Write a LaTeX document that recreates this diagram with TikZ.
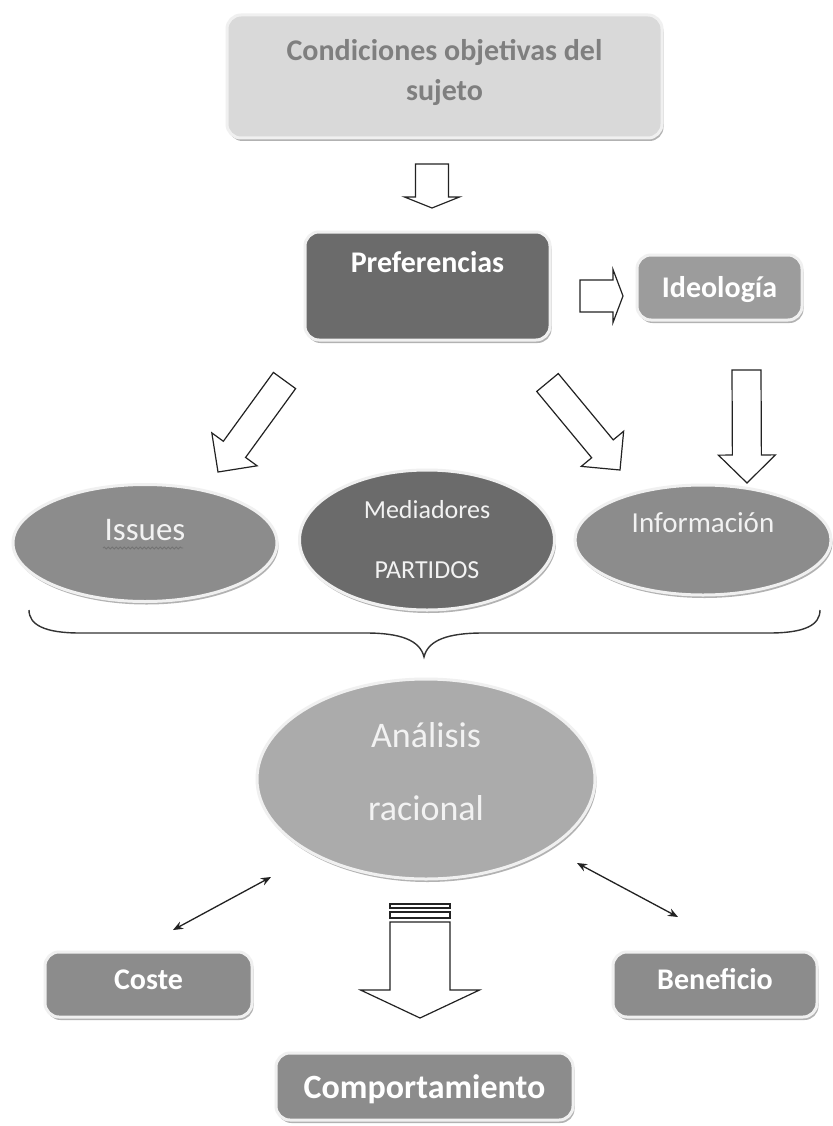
\documentclass[tikz,border=0pt]{standalone}
\usepackage{fontspec}
\setmainfont{Carlito}
\usetikzlibrary{shapes.geometric,shadows,calc,arrows.meta,decorations.pathmorphing}

\definecolor{condfill}{HTML}{D9D9D9}
\definecolor{condtext}{HTML}{7F7F7F}
\definecolor{darkfill}{HTML}{6B6B6B}
\definecolor{midfill}{HTML}{8C8C8C}
\definecolor{ideofill}{HTML}{9C9C9C}
\definecolor{anafill}{HTML}{ABABAB}
\definecolor{rimcol}{HTML}{F0F0F0}
\definecolor{inkcol}{HTML}{222222}
\definecolor{lighttext}{HTML}{F2F2F2}

% hollow block arrow: tail, tip, half shaft width, half head width, head length
\newcommand\blockarrow[5]{%
  \coordinate (#1#2hb) at ($(#2)!#5!(#1)$);
  \draw[hollowarrow]
    ($(#1)!#3!90:(#2)$) -- ($(#1#2hb)!#3!90:(#2)$) -- ($(#1#2hb)!#4!90:(#2)$)
    -- (#2)
    -- ($(#1#2hb)!#4!-90:(#2)$) -- ($(#1#2hb)!#3!-90:(#2)$) -- ($(#1)!#3!-90:(#2)$)
    -- cycle;}

\begin{document}
\begin{tikzpicture}[x=1pt,y=-1pt,
  softshadow/.style={drop shadow={shadow xshift=1.5pt,shadow yshift=-3pt,fill=black,opacity=0.3}},
  rbox/.style={rectangle,rounded corners=14pt,draw=rimcol,line width=3pt,softshadow,
    inner sep=0pt,align=center,text=white,font=\bfseries\fontsize{30}{40}\selectfont},
  oval/.style={ellipse,draw=rimcol,line width=3pt,softshadow,inner sep=0pt,
    align=center,text=lighttext},
  hollowarrow/.style={draw=inkcol,fill=white,line width=1.2pt,line join=miter},
  dblarrow/.style={draw=inkcol,line width=1.3pt,{Stealth[length=10pt,width=8pt]}-{Stealth[length=10pt,width=8pt]}},
  bracecol/.style={draw=black!80,line width=1.4pt}]

\useasboundingbox[fill=white] (0,0) rectangle (832,1126);

% boxes
\node[rbox,fill=condfill,text=condtext,minimum width=435pt,minimum height=123pt] (cond)
  at (444.5,76.5) {Condiciones objetivas del\\sujeto\rule[-13pt]{0pt}{13pt}};
\node[rbox,fill=darkfill,minimum width=245pt,minimum height=108pt,text height=22pt,text depth=48.6pt] (pref)
  at (427.5,286) {Preferencias};
\node[rbox,fill=ideofill,minimum width=165pt,minimum height=65pt,text height=20pt,text depth=1pt] (ideo)
  at (719.5,287.5) {Ideología};
\node[rbox,fill=midfill,minimum width=207pt,minimum height=65pt,text height=20pt,text depth=10pt] (coste)
  at (148.5,984.5) {Coste};
\node[rbox,fill=midfill,minimum width=204pt,minimum height=65pt,text height=20pt,text depth=10pt] (benef)
  at (715,984.5) {Beneficio};
\node[rbox,fill=midfill,minimum width=297pt,minimum height=67pt,text height=23pt,text depth=0pt,
  font=\bfseries\fontsize{34}{40}\selectfont] (comp)
  at (424.5,1086.5) {Comportamiento};

% ellipses
\node[oval,fill=midfill,minimum width=264pt,minimum height=117pt,text height=22pt,text depth=27pt,
  font=\fontsize{33}{40}\selectfont] (issues) at (145,543) {Issues};
\node[oval,fill=darkfill,minimum width=255pt,minimum height=140pt,
  font=\fontsize{26}{60}\selectfont] (med) at (427,540) {Mediadores\\PARTIDOS};
\node[oval,fill=midfill,minimum width=256pt,minimum height=110pt,text height=19pt,text depth=34.4pt,
  font=\fontsize{29}{40}\selectfont] (info) at (703,540) {Información};
\node[oval,fill=anafill,minimum width=338pt,minimum height=200pt,
  font=\fontsize{36}{73}\selectfont] (ana) at (426,779) {Análisis\\racional\rule[-15pt]{0pt}{15pt}};

% spelling mark under "Issues"
\draw[black!55,line width=0.8pt,decorate,decoration={snake,amplitude=1pt,segment length=4pt}]
  (103,548) -- (183,548);

% hollow block arrows
\coordinate (t1) at (432,164);   \coordinate (h1) at (432,208);
\blockarrow{t1}{h1}{16.5pt}{27.5pt}{11pt}
\coordinate (t2) at (580,296);   \coordinate (h2) at (623,296);
\blockarrow{t2}{h2}{16pt}{26.5pt}{10pt}
\coordinate (t3) at (284.5,380.5); \coordinate (h3) at (218,472);
\blockarrow{t3}{h3}{13.75pt}{28pt}{28pt}
\coordinate (t4) at (547.5,382.5); \coordinate (h4) at (620,470);
\blockarrow{t4}{h4}{14pt}{27.5pt}{27.5pt}
\coordinate (t5) at (746.5,370); \coordinate (h5) at (747,483);
\blockarrow{t5}{h5}{14.5pt}{28.5pt}{28pt}
\coordinate (t6) at (420,922);   \coordinate (h6) at (420,1018);
\blockarrow{t6}{h6}{30pt}{59.5pt}{28pt}
\draw[hollowarrow] (390,904) rectangle (450,908);
\draw[hollowarrow] (390,912) rectangle (450,918);

% brace gathering the three mediating factors
\draw[bracecol] (29,610) .. controls (29,625) and (45,633) .. (80,633) -- (366,633)
  .. controls (400,633) and (420,640) .. (424,657)
  .. controls (428,640) and (448,633) .. (483,633) -- (769,633)
  .. controls (805,633) and (820,625) .. (820,610);

% cost / benefit links
\coordinate (c1) at (271,877); \coordinate (c2) at (173,930);
\draw[dblarrow] (c1) -- (c2);
\coordinate (c3) at (577,863); \coordinate (c4) at (678,917);
\draw[dblarrow] (c3) -- (c4);

\end{tikzpicture}
\end{document}
